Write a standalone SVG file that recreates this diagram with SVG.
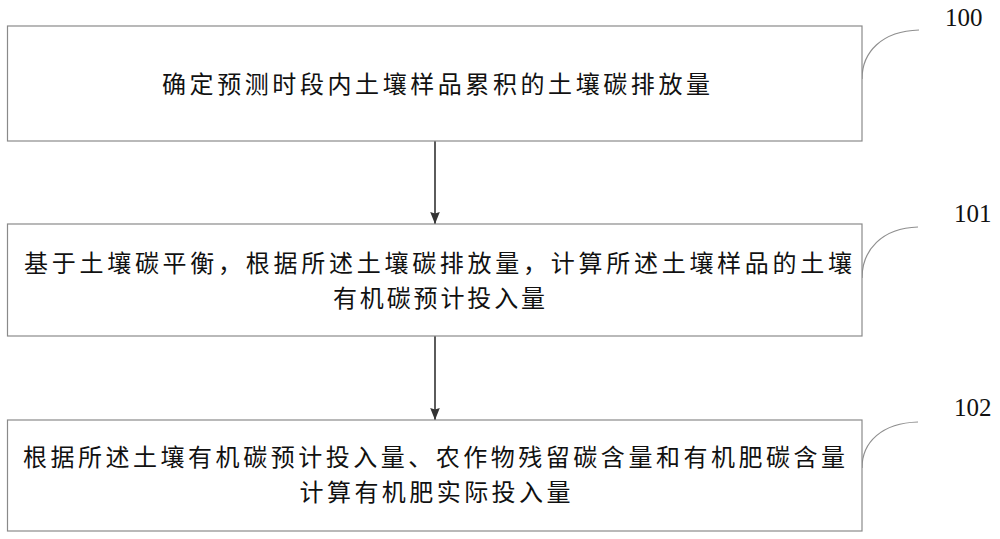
<svg xmlns="http://www.w3.org/2000/svg" width="1000" height="539" viewBox="0 0 1000 539">
<defs>
<style>
.box{fill:#fff;stroke:#8a8a8a;stroke-width:1.2}
.txt{font-family:"Noto Sans CJK SC","Noto Sans CJK JP",sans-serif;font-size:24px;fill:#111;text-anchor:middle}
.lbl{font-family:"Liberation Serif","Times New Roman",serif;font-size:25px;fill:#111}
.conn{stroke:#333;stroke-width:1.6;fill:none}
.lead{stroke:#8f8f8f;stroke-width:1.2;fill:none}
</style>
<marker id="arr" markerWidth="12" markerHeight="15" refX="15" refY="6" orient="auto" markerUnits="userSpaceOnUse" viewBox="0 0 15 12">
<path d="M0,0 L15,6 L0,12 L2,6 Z" fill="#333"/>
</marker>
</defs>
<rect width="1000" height="539" fill="#fff"/>
<g id="connectors">
<line class="conn" x1="435" y1="141" x2="435" y2="224" marker-end="url(#arr)"/>
<line class="conn" x1="435" y1="336" x2="435" y2="420" marker-end="url(#arr)"/>
<path class="lead" d="M862,79 C862,52 882,31 919,30"/>
<path class="lead" d="M862,278 C862,250 882,228 918,227"/>
<path class="lead" d="M862,468 C862,442 882,423 918,422"/>
</g>
<g id="n100">
<rect class="box" x="7.5" y="26" width="854.5" height="115"/>
<text class="txt" x="436" y="92.5" textLength="548" lengthAdjust="spacing">确定预测时段内土壤样品累积的土壤碳排放量</text>
<text class="lbl" x="945" y="26">100</text>
</g>
<g id="n101">
<rect class="box" x="7.5" y="224" width="854.5" height="112"/>
<text class="txt" x="438" y="271.5" textLength="828" lengthAdjust="spacing">基于土壤碳平衡，根据所述土壤碳排放量，计算所述土壤样品的土壤</text>
<text class="txt" x="439" y="306.5" textLength="212" lengthAdjust="spacing">有机碳预计投入量</text>
<text class="lbl" x="954" y="222">101</text>
</g>
<g id="n102">
<rect class="box" x="7.5" y="420" width="854.5" height="111"/>
<text class="txt" x="434" y="465.5" textLength="822" lengthAdjust="spacing">根据所述土壤有机碳预计投入量、农作物残留碳含量和有机肥碳含量</text>
<text class="txt" x="435" y="500.5" textLength="271" lengthAdjust="spacing">计算有机肥实际投入量</text>
<text class="lbl" x="954" y="416">102</text>
</g>
</svg>
